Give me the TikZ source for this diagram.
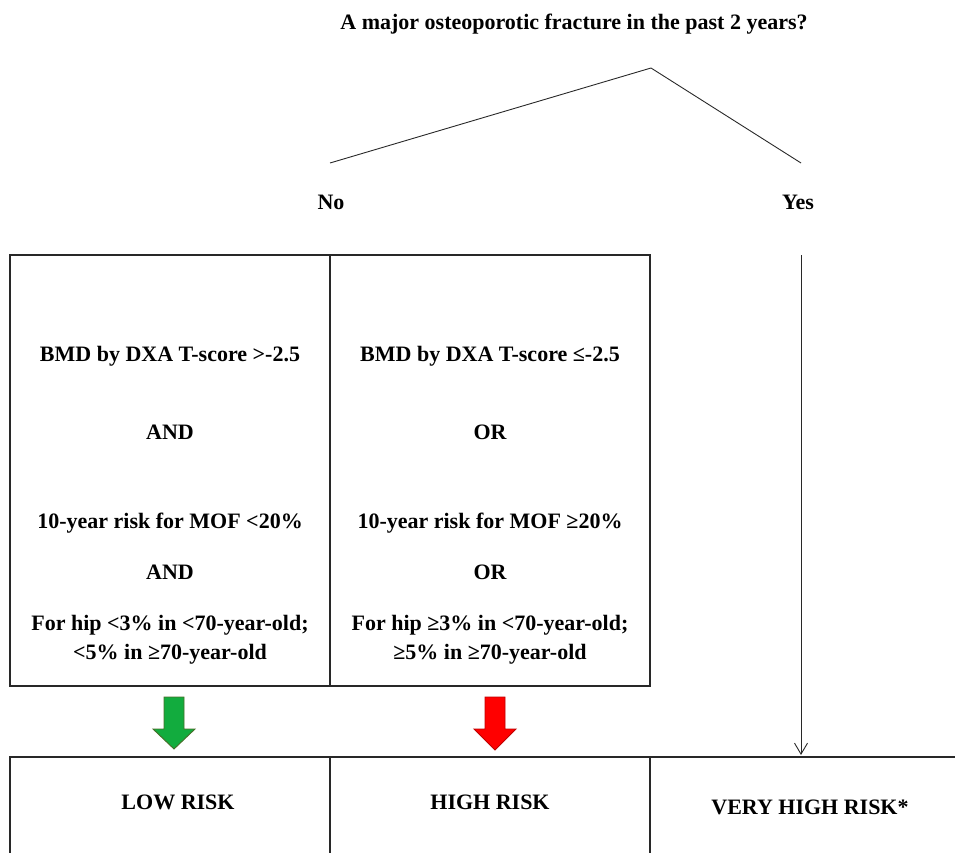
\documentclass[tikz,border=0pt]{standalone}
\usepackage{fontspec}
\setmainfont{Liberation Serif}
\usetikzlibrary{arrows.meta}
\definecolor{gfill}{RGB}{18,172,62}
\definecolor{gline}{RGB}{70,110,40}
\definecolor{rfill}{RGB}{255,0,0}
\definecolor{rline}{RGB}{190,0,0}
\definecolor{ink}{RGB}{40,40,40}
\begin{document}
\begin{tikzpicture}[x=1pt,y=-1pt,
  lab/.style={font=\bfseries\fontsize{22}{26}\selectfont, anchor=base, inner sep=0pt},
  boxline/.style={draw=ink, line width=1.4pt, inner sep=0pt, outer sep=0pt},
  treeline/.style={draw=ink, line width=0.9pt},
  garrow/.style={fill=gfill, draw=gline, line width=0.9pt},
  rarrow/.style={fill=rfill, draw=rline, line width=0.9pt}]
\useasboundingbox (0,0) rectangle (955,853);
\clip (0,0) rectangle (955,853);

% title and tree
\node[lab] (title) at (574,30) {A major osteoporotic fracture in the past 2 years?};
\coordinate (peak) at (651,68);
\coordinate (noend) at (330,163);
\coordinate (yesend) at (801,163);
\draw[treeline] (noend) -- (peak) -- (yesend);
\node[lab] (no) at (331,209) {No};
\node[lab] (yes) at (798,209) {Yes};

% upper boxes
\node[boxline, minimum width=320, minimum height=431, anchor=north west] (b1) at (10,255) {};
\node[boxline, minimum width=320, minimum height=431, anchor=north west] (b2) at (330,255) {};

\node[lab] (l1) at (170,361) {BMD by DXA T-score >-2.5};
\node[lab] (l2) at (170,439) {AND};
\node[lab] (l3) at (170,528) {10-year risk for MOF <20\%};
\node[lab] (l4) at (170,579) {AND};
\node[lab] (l5) at (170,630) {For hip <3\% in <70-year-old;};
\node[lab] (l6) at (170,659) {<5\% in ≥70-year-old};

\node[lab] (r1) at (490,361) {BMD by DXA T-score ≤-2.5};
\node[lab] (r2) at (490,439) {OR};
\node[lab] (r3) at (490,528) {10-year risk for MOF ≥20\%};
\node[lab] (r4) at (490,579) {OR};
\node[lab] (r5) at (490,630) {For hip ≥3\% in <70-year-old;};
\node[lab] (r6) at (490,659) {≥5\% in ≥70-year-old};

% yes arrow
\coordinate (ytop) at (801,255);
\coordinate (ybot) at (801,755);
\draw[treeline, -{Straight Barb[length=11pt,width=13pt,line width=0.9pt]}] (ytop) -- (ybot);

% block arrows
\path[garrow] (164,697) -- (184,697) -- (184,729) -- (195,729) -- (174,749) -- (153,729) -- (164,729) -- cycle;
\path[rarrow] (485,697) -- (505,697) -- (505,729) -- (516,729) -- (495,750) -- (474,729) -- (485,729) -- cycle;

% bottom boxes
\node[boxline, minimum width=320, minimum height=150, anchor=north west] (b4) at (10,757) {};
\node[boxline, minimum width=320, minimum height=150, anchor=north west] (b5) at (330,757) {};
\node[boxline, minimum width=320, minimum height=150, anchor=north west] (b6) at (650,757) {};

\node[lab] (low) at (178,809) {LOW RISK};
\node[lab] (high) at (490,809) {HIGH RISK};
\node[lab] (vhigh) at (810,814) {VERY HIGH RISK*};
\end{tikzpicture}
\end{document}
